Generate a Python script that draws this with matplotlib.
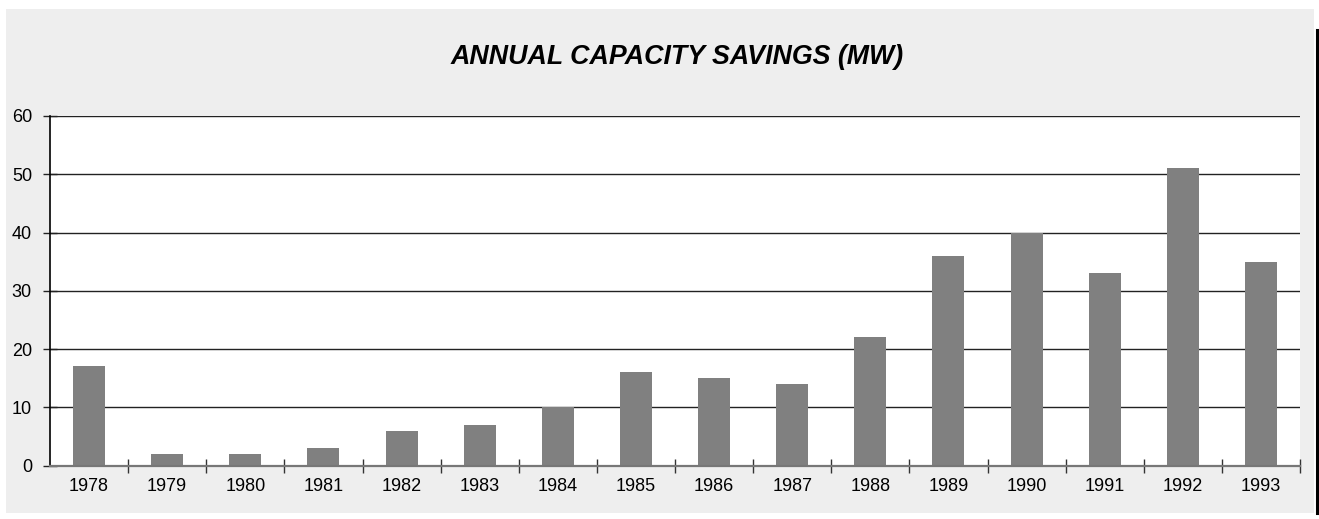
import matplotlib
matplotlib.use("Agg")
import matplotlib.pyplot as plt
from matplotlib.patches import Rectangle
from matplotlib.lines import Line2D
import numpy as np

years = ["1978", "1979", "1980", "1981", "1982", "1983", "1984", "1985",
         "1986", "1987", "1988", "1989", "1990", "1991", "1992", "1993"]
savings_mw = [17, 2, 2, 3, 6, 7, 10, 16, 15, 14, 22, 36, 40, 33, 51, 35]
y_ticks = [0, 10, 20, 30, 40, 50, 60]
title = "ANNUAL CAPACITY SAVINGS (MW)"

plt.rcParams["font.family"] = ["Liberation Sans", "DejaVu Sans"]

W, H = 1319, 519
fig = plt.figure(figsize=(W / 100, H / 100), dpi=100, facecolor="white")

# light gray chart panel and dark right-hand rule, kept behind the axes
panel = Rectangle((6 / W, 1 - 513 / H), (1314 - 6) / W, (513 - 9) / H,
                  transform=fig.transFigure, facecolor="#eeeeee",
                  edgecolor="none", zorder=-10)
fig.add_artist(panel)
rule = Line2D([1317 / W, 1317 / W], [1 - 30 / H, 1 - 513 / H],
              transform=fig.transFigure, color="black", lw=2.2, zorder=-5)
fig.add_artist(rule)

ax = fig.add_axes([50 / W, 1 - 465.5 / H, 1250 / W, (465.5 - 116) / H])
ax.set_zorder(1)
ax.set_facecolor("white")

x = np.arange(len(years))
ax.bar(x, savings_mw, width=0.41, color="#808080", zorder=3)

ax.set_xlim(-0.5, len(years) - 0.5)
ax.set_ylim(0, 60)
ax.set_yticks(y_ticks)
ax.set_yticklabels([str(v) for v in y_ticks])
ax.yaxis.grid(True, color="#222222", lw=1.0, zorder=1)
ax.set_axisbelow(True)

# year labels centred under bars, tick marks at category boundaries
ax.set_xticks(x)
ax.set_xticklabels(years)
ax.tick_params(axis="x", which="major", length=0, pad=9, labelsize=13)
ax.set_xticks(np.arange(0.5, len(years) - 0.5 + 0.01, 1.0), minor=True)
ax.tick_params(axis="x", which="minor", direction="inout", length=10,
               width=1, color="#333333")
ax.tick_params(axis="y", direction="inout", length=10, width=1,
               color="#222222", pad=8, labelsize=13)

for side in ("top", "right"):
    ax.spines[side].set_visible(False)
ax.spines["left"].set_color("black")
ax.spines["left"].set_linewidth(1.2)
ax.spines["bottom"].set_color("#777777")
ax.spines["bottom"].set_linewidth(1.6)
ax.spines["bottom"].set_zorder(4)

fig.text(677.5 / W, 1 - 57 / H, title, ha="center", va="center",
         fontsize=19.3, fontweight="bold", fontstyle="italic", color="black")

fig.savefig("out.png", dpi=100, facecolor="white")
